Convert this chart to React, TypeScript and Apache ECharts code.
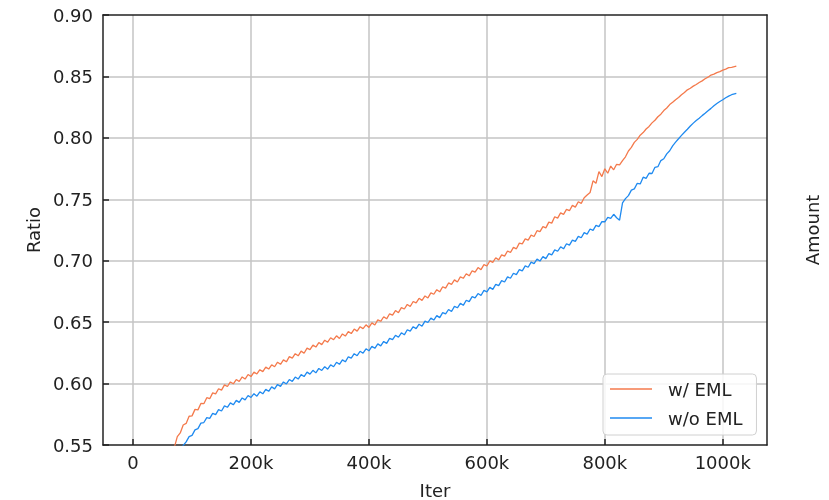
import React, { useEffect, useRef } from "react";
import * as echarts from "echarts";

const ITER_K = [
  70, 75, 80, 85, 90, 95, 100, 105, 110, 115,
  120, 125, 130, 135, 140, 145, 150, 155, 160, 165,
  170, 175, 180, 185, 190, 195, 200, 205, 210, 215,
  220, 225, 230, 235, 240, 245, 250, 255, 260, 265,
  270, 275, 280, 285, 290, 295, 300, 305, 310, 315,
  320, 325, 330, 335, 340, 345, 350, 355, 360, 365,
  370, 375, 380, 385, 390, 395, 400, 405, 410, 415,
  420, 425, 430, 435, 440, 445, 450, 455, 460, 465,
  470, 475, 480, 485, 490, 495, 500, 505, 510, 515,
  520, 525, 530, 535, 540, 545, 550, 555, 560, 565,
  570, 575, 580, 585, 590, 595, 600, 605, 610, 615,
  620, 625, 630, 635, 640, 645, 650, 655, 660, 665,
  670, 675, 680, 685, 690, 695, 700, 705, 710, 715,
  720, 725, 730, 735, 740, 745, 750, 755, 760, 765,
  770, 775, 780, 785, 790, 795, 800, 805, 810, 815,
  820, 825, 830, 835, 840, 845, 850, 855, 860, 865,
  870, 875, 880, 885, 890, 895, 900, 905, 910, 915,
  920, 925, 930, 935, 940, 945, 950, 955, 960, 965,
  970, 975, 980, 985, 990, 995, 1000, 1005, 1010, 1015,
  1023,
];

const W_EML = [
  0.548, 0.5568, 0.5598, 0.5663, 0.5676, 0.5734, 0.5737, 0.579, 0.5786, 0.5838,
  0.5836, 0.5885, 0.5877, 0.5924, 0.5916, 0.5958, 0.5947, 0.5989, 0.5976, 0.6013,
  0.5998, 0.6033, 0.6017, 0.6054, 0.6037, 0.6074, 0.6057, 0.6093, 0.6078, 0.6113,
  0.6097, 0.6134, 0.6118, 0.6153, 0.6137, 0.6174, 0.6157, 0.6193, 0.6177, 0.6219,
  0.6207, 0.6243, 0.6226, 0.6264, 0.6247, 0.6288, 0.6276, 0.6313, 0.6297, 0.6334,
  0.6317, 0.6353, 0.6337, 0.6373, 0.6357, 0.6389, 0.6367, 0.6404, 0.6387, 0.6423,
  0.6407, 0.6444, 0.6427, 0.6463, 0.6447, 0.6478, 0.6457, 0.6494, 0.6477, 0.6518,
  0.6507, 0.6544, 0.6527, 0.6568, 0.6557, 0.6594, 0.6577, 0.6618, 0.6607, 0.6644,
  0.6627, 0.6668, 0.6657, 0.6694, 0.6677, 0.6713, 0.6697, 0.6738, 0.6727, 0.6764,
  0.6747, 0.6788, 0.6777, 0.6819, 0.6807, 0.6844, 0.6827, 0.6868, 0.6857, 0.6894,
  0.6877, 0.6918, 0.6907, 0.6944, 0.6927, 0.6968, 0.6957, 0.6998, 0.6987, 0.7024,
  0.7007, 0.7048, 0.7037, 0.7079, 0.7067, 0.7108, 0.7097, 0.7143, 0.7137, 0.7178,
  0.7167, 0.7208, 0.7197, 0.7244, 0.7237, 0.7278, 0.7267, 0.7314, 0.7306, 0.7358,
  0.7347, 0.7389, 0.7377, 0.7418, 0.7407, 0.745, 0.7436, 0.748, 0.7467, 0.7512,
  0.7535, 0.7555, 0.765, 0.763, 0.7725, 0.7685, 0.7748, 0.7712, 0.777, 0.774,
  0.7785, 0.778, 0.7815, 0.7846, 0.7893, 0.7922, 0.7963, 0.7988, 0.8022, 0.8043,
  0.8072, 0.8093, 0.8122, 0.8143, 0.8172, 0.8193, 0.8222, 0.8243, 0.8271, 0.8289,
  0.8311, 0.8329, 0.8351, 0.8369, 0.8391, 0.8404, 0.8421, 0.8434, 0.8451, 0.8464,
  0.8481, 0.8494, 0.8511, 0.8519, 0.8531, 0.8539, 0.8551, 0.8559, 0.8571, 0.8574,
  0.8583,
];

const WO_EML = [
  null, null, 0.545, 0.5497, 0.5525, 0.5568, 0.5578, 0.5623, 0.5633, 0.5678,
  0.5683, 0.5723, 0.5717, 0.5758, 0.5747, 0.5788, 0.5777, 0.5818, 0.5807, 0.5843,
  0.5827, 0.5863, 0.5847, 0.5883, 0.5867, 0.5903, 0.5887, 0.5918, 0.5897, 0.5933,
  0.5917, 0.5953, 0.5937, 0.5973, 0.5957, 0.5993, 0.5977, 0.6013, 0.5997, 0.6033,
  0.6017, 0.6053, 0.6037, 0.6073, 0.6057, 0.6093, 0.6077, 0.6108, 0.6087, 0.6123,
  0.6107, 0.6138, 0.6117, 0.6153, 0.6137, 0.6173, 0.6157, 0.6193, 0.6177, 0.6218,
  0.6207, 0.6243, 0.6227, 0.6263, 0.6247, 0.6283, 0.6267, 0.6303, 0.6287, 0.6323,
  0.6307, 0.6343, 0.6327, 0.6368, 0.6357, 0.6393, 0.6377, 0.6413, 0.6397, 0.6438,
  0.6427, 0.6463, 0.6447, 0.6483, 0.6467, 0.6508, 0.6497, 0.6533, 0.6517, 0.6553,
  0.6537, 0.6578, 0.6567, 0.6603, 0.6587, 0.6628, 0.6617, 0.6653, 0.6637, 0.6678,
  0.6667, 0.6708, 0.6697, 0.6733, 0.6717, 0.6758, 0.6747, 0.6783, 0.6767, 0.6808,
  0.6797, 0.6838, 0.6827, 0.6868, 0.6857, 0.6898, 0.6887, 0.6928, 0.6917, 0.6958,
  0.6947, 0.6988, 0.6977, 0.7013, 0.6997, 0.7033, 0.7017, 0.7058, 0.7047, 0.7088,
  0.7077, 0.7113, 0.7097, 0.7138, 0.7127, 0.7168, 0.7157, 0.7198, 0.7187, 0.7228,
  0.7217, 0.7258, 0.7247, 0.7288, 0.7277, 0.7318, 0.7317, 0.7352, 0.7345, 0.7378,
  0.735, 0.733, 0.747, 0.7505, 0.753, 0.7575, 0.7585, 0.763, 0.7625, 0.768,
  0.767, 0.7712, 0.771, 0.776, 0.7765, 0.7815, 0.783, 0.787, 0.7895, 0.7935,
  0.7965, 0.7993, 0.802, 0.8046, 0.807, 0.8096, 0.812, 0.8141, 0.816, 0.8181,
  0.82, 0.8221, 0.824, 0.8261, 0.828, 0.8296, 0.831, 0.8326, 0.834, 0.8351,
  0.8362,
];

const X_TICKS = [0, 200, 400, 600, 800, 1000];
const SERIES_NAMES = ["w/ EML", "w/o EML"];
const COLORS = ["#f47a4c", "#1f8af0"];

const FONT = "DejaVu Sans";
const TXT = "#222";
const FRAME = "#222";
const GRIDC = "#c4c4c4";

export default function App() {
  const ref = useRef<HTMLDivElement>(null);
  useEffect(() => {
    if (!ref.current) return;
    const chart = echarts.init(ref.current, null, { renderer: "svg" });
    const fmtX = (v: number) => {
      if (!X_TICKS.includes(Math.round(v))) return "";
      return v === 0 ? "0" : `${Math.round(v)}k`;
    };
    const nameStyle = { fontFamily: FONT, fontSize: 18, color: TXT };
    chart.setOption({
      animation: false,
      textStyle: { fontFamily: FONT, color: TXT },
      grid: {
        left: 103,
        right: 62,
        top: 15,
        bottom: 55,
        show: false,
        containLabel: false,
        outerBoundsMode: "none",
      },
      legend: {
        orient: "vertical",
        left: 603,
        top: 374,
        data: SERIES_NAMES,
        icon: "rect",
        itemWidth: 42,
        itemHeight: 1.5,
        itemGap: 9,
        padding: [5, 14, 7, 7],
        borderColor: "#d0d0d0",
        borderWidth: 1,
        borderRadius: 4,
        backgroundColor: "rgba(255,255,255,0.85)",
        textStyle: { fontFamily: FONT, fontSize: 18, color: TXT, lineHeight: 20, padding: [0, 0, 0, 11] },
      },
      xAxis: [
        {
          type: "value",
          min: -51,
          max: 1075,
          splitNumber: 5,
          axisLine: { show: true, onZero: false, lineStyle: { color: FRAME, width: 1.5 } },
          axisTick: { show: true, inside: true, length: 6, lineStyle: { color: FRAME, width: 1.5 } },
          axisLabel: {
            fontFamily: FONT,
            fontSize: 18,
            color: TXT,
            margin: 8,
            showMinLabel: false,
            showMaxLabel: false,
            formatter: fmtX,
          },
          splitLine: { show: true, showMinLine: false, showMaxLine: false, lineStyle: { color: GRIDC, width: 1.5 } },
          name: "Iter",
          nameLocation: "middle",
          nameGap: 36,
          nameTextStyle: nameStyle,
        },
        {
          type: "value",
          position: "top",
          min: -51,
          max: 1075,
          axisLine: { show: true, onZero: false, lineStyle: { color: FRAME, width: 1.5 } },
          axisTick: { show: false },
          axisLabel: { show: false },
          splitLine: { show: false },
        },
      ],
      yAxis: [
        {
          type: "value",
          min: 0.55,
          max: 0.9,
          interval: 0.05,
          axisLine: { show: true, onZero: false, lineStyle: { color: FRAME, width: 1.5 } },
          axisTick: { show: true, inside: true, length: 6, lineStyle: { color: FRAME, width: 1.5 } },
          axisLabel: {
            fontFamily: FONT,
            fontSize: 18,
            color: TXT,
            margin: 10,
            formatter: (v: number) => v.toFixed(2),
          },
          splitLine: { show: true, showMinLine: false, showMaxLine: false, lineStyle: { color: GRIDC, width: 1.5 } },
          name: "Ratio",
          nameLocation: "middle",
          nameGap: 60,
          nameTextStyle: nameStyle,
        },
        {
          type: "value",
          position: "right",
          min: 0,
          max: 1,
          axisLine: { show: true, onZero: false, lineStyle: { color: FRAME, width: 1.5 } },
          axisTick: { show: false },
          axisLabel: { show: false },
          splitLine: { show: false },
          name: "Amount",
          nameLocation: "middle",
          nameGap: 36,
          nameTextStyle: nameStyle,
        },
      ],
      series: [
        {
          name: SERIES_NAMES[0],
          type: "line",
          data: ITER_K.map((x, i) => [x, W_EML[i]]),
          showSymbol: false,
          symbol: "none",
          clip: true,
          lineStyle: { color: COLORS[0], width: 1.3 },
          itemStyle: { color: COLORS[0] },
          z: 3,
        },
        {
          name: SERIES_NAMES[1],
          type: "line",
          data: ITER_K.map((x, i) => [x, WO_EML[i]]),
          showSymbol: false,
          symbol: "none",
          clip: true,
          lineStyle: { color: COLORS[1], width: 1.3 },
          itemStyle: { color: COLORS[1] },
          z: 3,
        },
      ],
    });
    return () => chart.dispose();
  }, []);
  return <div ref={ref} style={{ position: "fixed", left: 0, top: 0, width: 829, height: 500 }} />;
}
